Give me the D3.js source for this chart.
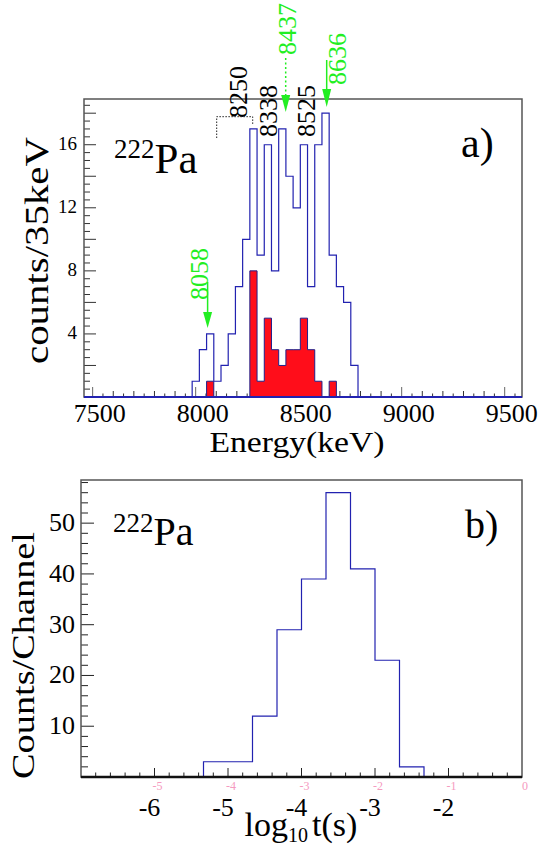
<!DOCTYPE html>
<html><head><meta charset="utf-8">
<script src="https://cdn.jsdelivr.net/npm/d3@7"></script>
<style>body{margin:0;background:#fff}svg{display:block}</style>
</head><body><svg id="c" width="555" height="845" font-family="'Liberation Serif','Times New Roman',Tinos,'DejaVu Serif',serif"></svg>
<script>
// ---------- Panel a data ----------
const energyBinStart = 7983;
const energyBinWidth = 35;
const allCounts    = [1,3,4,1,2,4,7,10,17,9,16,8,17,14,12,16,7,16,18,9,7,6,2];
const taggedCounts = [0,0,1,0,0,0,0,0,8,1,5,3,2,3,3,5,3,1,0,1,0,0,0];
const energyTicks = [7500,8000,8500,9000,9500];
const energyTickLabels = ["7500","8000","8500","9000","9500"];
const countTicks = [4,8,12,16];
const peakLabels = ["8250","8338","8525"];
const greenArrowEnergies = [8058,8437,8636];
const greenArrowLabels = ["8058","8437","8636"];
// ---------- Panel b data ----------
const logtBinStart = -16/3;
const logtBinWidth = 1/3;
const logtCounts = [3,3,12,29,39,56,41,23,2];
const logtTicks = [-6,-5,-4,-3,-2];
const logtTickLabels = ["-6","-5","-4","-3","-2"];
const pinkTickLabels = ["-5","-4","-3","-2","-1","0"];
const channelTicks = [10,20,30,40,50];

const svg = d3.select("#c");
const BLUE = "#2222b0", RED = "#ff0d1a", GREEN = "#22ee22", FRAME = "#555";

function stepPoints(start, width, counts){
  const pts = [[start, 0]];
  counts.forEach((c,i)=>{ pts.push([start+i*width, c]); pts.push([start+(i+1)*width, c]); });
  pts.push([start+counts.length*width, 0]);
  return pts;
}

// ================= Panel a =================
const xa = d3.scaleLinear().domain([7458, 9584]).range([84, 522]);
const ya = d3.scaleLinear().domain([0, 18.9]).range([397, 99]);
const ga = svg.append("g");

d3.range(7500, 9584, 50).forEach(v=>{
  const len = v%500===0 ? 10 : (v%100===0 ? 6 : 3.5);
  ga.append("line").attr("x1",xa(v)).attr("x2",xa(v)).attr("y1",397).attr("y2",397-len)
    .attr("stroke", v%500===0 ? "#666" : "#333").attr("stroke-width",1);
});
d3.range(0.5, 18.9, 0.5).forEach(v=>{
  const len = v%2===0 ? 12 : 6;
  ga.append("line").attr("x1",84).attr("x2",84+len).attr("y1",ya(v)).attr("y2",ya(v))
    .attr("stroke","#333").attr("stroke-width",1);
});

const lineA = d3.line().x(d=>xa(d[0])).y(d=>ya(d[1]));
ga.append("path").attr("d", lineA(stepPoints(energyBinStart, energyBinWidth, taggedCounts)))
  .attr("fill", RED).attr("stroke","#20208a").attr("stroke-width",1);
ga.append("path").attr("d", lineA(stepPoints(energyBinStart, energyBinWidth, allCounts)))
  .attr("fill","none").attr("stroke",BLUE).attr("stroke-width",1.2);

ga.append("rect").attr("x",84).attr("y",99).attr("width",438).attr("height",298)
  .attr("fill","none").attr("stroke",FRAME).attr("stroke-width",1.5);
ga.append("line").attr("x1",84).attr("x2",522).attr("y1",397).attr("y2",397)
  .attr("stroke",BLUE).attr("stroke-width",2);

energyTicks.forEach((v,i)=>{
  ga.append("text").attr("x",xa(v)+7).attr("y",422).attr("text-anchor","middle")
    .attr("font-size",26).text(energyTickLabels[i]);
});
countTicks.forEach(v=>{
  ga.append("text").attr("x",77).attr("y",ya(v)+5).attr("text-anchor","end")
    .attr("font-size",19).text(v);
});
ga.append("text").attr("x",297).attr("y",452).attr("text-anchor","middle")
  .attr("font-size",30).attr("textLength",175).attr("lengthAdjust","spacingAndGlyphs").text("Energy(keV)");
ga.append("text").attr("transform","translate(48,364) rotate(-90)")
  .attr("font-size",34).attr("textLength",227).attr("lengthAdjust","spacingAndGlyphs").text("counts/35keV");

const pa = ga.append("text").attr("x",114).attr("y",173);
pa.append("tspan").attr("font-size",27).attr("dy",-15).text("222");
pa.append("tspan").attr("font-size",43).attr("dy",15).text("Pa");
ga.append("text").attr("x",461).attr("y",157).attr("font-size",42).text("a)");

const peakPos = [[247,118],[277,137],[315,137]];
peakLabels.forEach((t,i)=>{
  ga.append("text").attr("transform",`translate(${peakPos[i][0]},${peakPos[i][1]}) rotate(-90)`)
    .attr("font-size",26).text(t);
});
ga.append("path").attr("d","M216.7,138 L216.7,116.7 L252.7,116.7 L252.7,125")
  .attr("fill","none").attr("stroke","#222").attr("stroke-width",1).attr("stroke-dasharray","1.5,1.5");

const arrowGeom = [
  {top:282, head:312, tip:328, dotted:false, tx:0, ty:300},
  {top:58,  head:95,  tip:112, dotted:true,  tx:10.5, ty:55},
  {top:60,  head:89,  tip:107, dotted:false, tx:19, ty:85}
];
greenArrowEnergies.forEach((e,i)=>{
  const g = arrowGeom[i], x = xa(e);
  ga.append("line").attr("x1",x).attr("x2",x).attr("y1",g.top).attr("y2",g.head)
    .attr("stroke",GREEN).attr("stroke-width",1.5).attr("stroke-dasharray", g.dotted ? "2,2.5" : null);
  ga.append("path").attr("d",`M${x-4.5},${g.head} L${x+4.5},${g.head} L${x},${g.tip} Z`).attr("fill",GREEN);
  ga.append("text").attr("transform",`translate(${x+g.tx},${g.ty}) rotate(-90)`)
    .attr("font-size",26).attr("fill",GREEN).text(greenArrowLabels[i]);
});

// ================= Panel b =================
const xb = d3.scaleLinear().domain([-7, -1]).range([81, 522]);
const yb = d3.scaleLinear().domain([0, 58.5]).range([777, 480]);
const gb = svg.append("g");

d3.range(-6.8, -1.01, 0.2).forEach(v=>{
  const major = Math.abs(v-Math.round(v))<1e-6;
  gb.append("line").attr("x1",xb(v)).attr("x2",xb(v)).attr("y1",777).attr("y2",777-(major?9:4.5))
    .attr("stroke","#222").attr("stroke-width",1);
});
d3.range(2, 58.5, 2).forEach(v=>{
  const len = v%10===0 ? 13 : 7;
  gb.append("line").attr("x1",81).attr("x2",81+len).attr("y1",yb(v)).attr("y2",yb(v))
    .attr("stroke","#222").attr("stroke-width",1);
});

const lineB = d3.line().x(d=>xb(d[0])).y(d=>yb(d[1]));
gb.append("path").attr("d", lineB(stepPoints(logtBinStart, logtBinWidth, logtCounts)))
  .attr("fill","none").attr("stroke",BLUE).attr("stroke-width",1.2);

gb.append("rect").attr("x",81).attr("y",480).attr("width",441).attr("height",297)
  .attr("fill","none").attr("stroke",FRAME).attr("stroke-width",1.5);
gb.append("line").attr("x1",81).attr("x2",522).attr("y1",777).attr("y2",777)
  .attr("stroke","#111").attr("stroke-width",2.5);

logtTicks.forEach((v,i)=>{
  gb.append("text").attr("x",xb(v)-5).attr("y",816).attr("text-anchor","middle")
    .attr("font-size",26).text(logtTickLabels[i]);
});
pinkTickLabels.forEach((t,i)=>{
  gb.append("text").attr("x",xb(logtTicks[0]+i)+3).attr("y",790).attr("text-anchor","middle")
    .attr("font-size",12).attr("fill","#f59ac0").text(t);
});
channelTicks.forEach(v=>{
  gb.append("text").attr("x",75).attr("y",yb(v)+8).attr("text-anchor","end")
    .attr("font-size",26).text(v);
});
const xl = gb.append("text").attr("x",301).attr("y",836).attr("text-anchor","middle");
xl.append("tspan").attr("font-size",34).text("log");
xl.append("tspan").attr("font-size",20).attr("dy",6).text("10");
xl.append("tspan").attr("font-size",34).attr("dy",-6).attr("dx",4).text("t(s)");
gb.append("text").attr("transform","translate(34,779) rotate(-90)")
  .attr("font-size",32).attr("textLength",247).attr("lengthAdjust","spacingAndGlyphs").text("Counts/Channel");

const pb = gb.append("text").attr("x",113).attr("y",545);
pb.append("tspan").attr("font-size",27).attr("dy",-13).text("222");
pb.append("tspan").attr("font-size",40).attr("dy",13).text("Pa");
gb.append("text").attr("x",465).attr("y",538).attr("font-size",40).text("b)");
</script></body></html>
